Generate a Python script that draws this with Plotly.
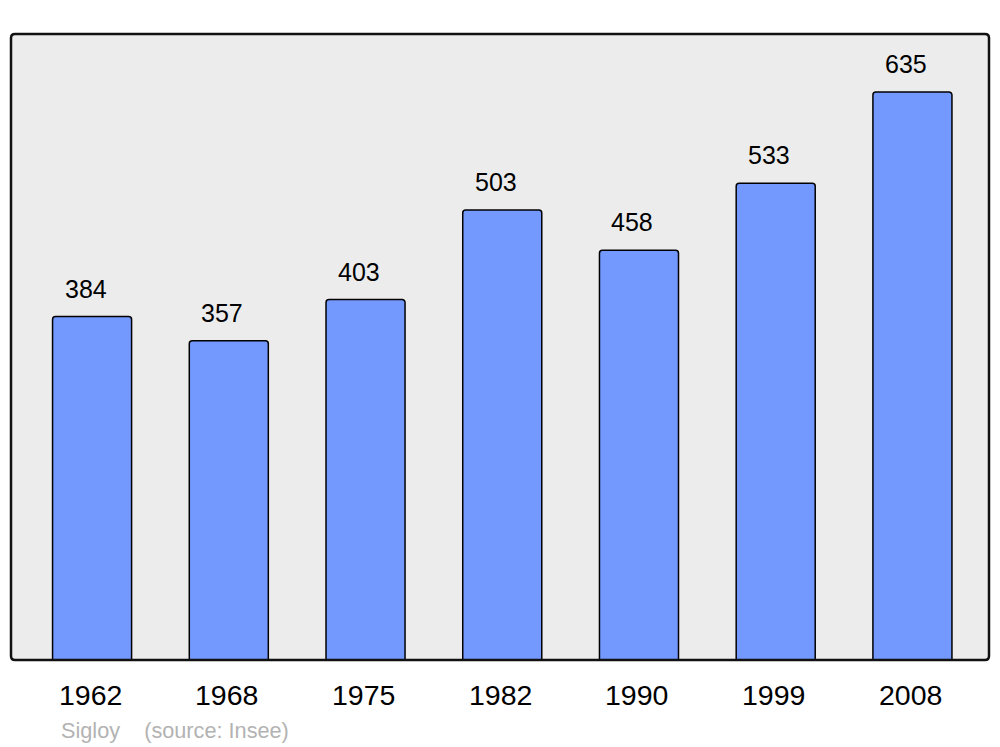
import plotly.graph_objects as go

years = ["1962", "1968", "1975", "1982", "1990", "1999", "2008"]
population = [384, 357, 403, 503, 458, 533, 635]
source_text = "Sigloy\u00a0\u00a0\u00a0\u00a0(source: Insee)"

W, H = 1000, 747
L, R, T, B = 11, 11, 34, 87
pw, ph = W - L - R, H - T - B
FONT = "Liberation Sans, Arial, sans-serif"

fig = go.Figure()
fig.add_trace(go.Bar(
    x=years, y=population, width=0.578,
    marker=dict(color="#7399ff", line=dict(color="#000000", width=1.5), cornerradius=3),
    hoverinfo="x+y",
))

annotations = []
for i, (yr, v) in enumerate(zip(years, population)):
    annotations.append(dict(x=i, y=v, xref="x", yref="y", text=str(v), showarrow=False,
                            yanchor="middle", yshift=28, xshift=-6.5,
                            font=dict(family=FONT, size=25, color="#000000")))
    annotations.append(dict(x=i, y=0, xref="x", yref="y", text=yr, showarrow=False,
                            yanchor="middle", yshift=-35, xshift=-2,
                            font=dict(family=FONT, size=28.5, color="#000000")))
annotations.append(dict(x=(59 - L) / pw, y=(660 - 730) / ph, xref="paper", yref="paper",
                        text=source_text, showarrow=False, xanchor="left", yanchor="middle",
                        font=dict(family=FONT, size=21.7, color="#b3b3b3")))

# rounded border of the plot area
rx, ry = 4 / pw, 4 / ph
path = (f"M {rx},0 L {1-rx},0 Q 1,0 1,{ry} L 1,{1-ry} Q 1,1 {1-rx},1 "
        f"L {rx},1 Q 0,1 0,{1-ry} L 0,{ry} Q 0,0 {rx},0 Z")

fig.update_layout(
    width=W, height=H,
    margin=dict(l=L, r=R, t=T, b=B, pad=0),
    paper_bgcolor="#ffffff", plot_bgcolor="#ececec",
    showlegend=False,
    xaxis=dict(type="category", range=[-0.593, 6.56], showticklabels=False, showgrid=False,
               zeroline=False, showline=False, ticks=""),
    yaxis=dict(range=[0, 699.8], showticklabels=False, showgrid=False, zeroline=False,
               showline=False, ticks=""),
    annotations=annotations,
    shapes=[dict(type="path", xref="paper", yref="paper", path=path,
                 line=dict(color="#111111", width=2.5), layer="above")],
)

fig.write_html("out.html", config={"displayModeBar": False},
               post_script="document.body.style.margin='0';document.body.style.overflow='hidden';")
